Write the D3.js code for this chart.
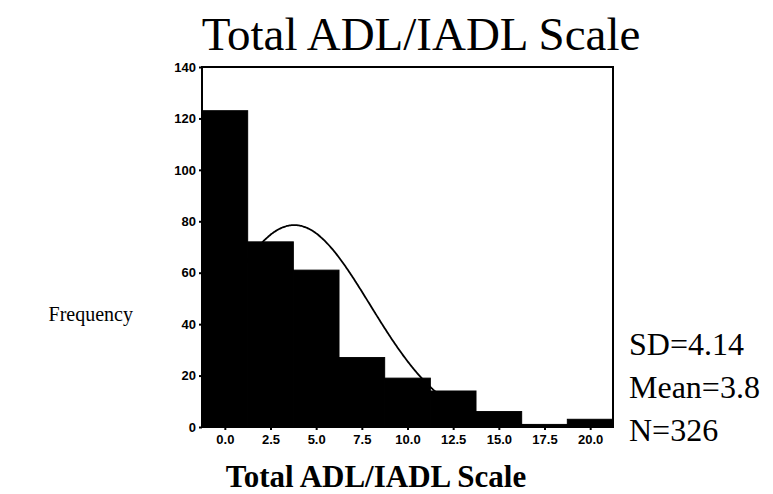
<!DOCTYPE html>
<html>
<head>
<meta charset="utf-8">
<script src="https://cdn.jsdelivr.net/npm/d3@7"></script>
<style>
  body { margin: 0; background: #fff; }
  svg { display: block; }
  .tick-label { font-family: "Liberation Sans", Arial, sans-serif; font-weight: bold; font-size: 13px; fill: #000; }
  .serif { font-family: "Liberation Serif", "Times New Roman", serif; fill: #000; }
</style>
</head>
<body>
<div id="chart"></div>
<script>
// bins (midpoints) and counts
const binMids = [0, 2.5, 5, 7.5, 10, 12.5, 15, 17.5, 20];
const counts = [123, 72, 61, 27, 19, 14, 6, 1, 3];
const xTickLabels = ["0.0", "2.5", "5.0", "7.5", "10.0", "12.5", "15.0", "17.5", "20.0"];
const yTicks = [0, 20, 40, 60, 80, 100, 120, 140];
// normal curve parameters printed beside the chart
const stats = ["SD=4.14", "Mean=3.8", "N=326"];
const sd = 4.14, mean = 3.8, n = 326;
const binWidth = 2.5;

const W = 773, H = 494;
const plotLeft = 202, plotRight = 613, plotTop = 67, plotBottom = 427;

const svg = d3.select("#chart").append("svg").attr("width", W).attr("height", H);

const x = d3.scaleLinear().domain([-binWidth / 2, 20 + binWidth / 2]).range([plotLeft, plotRight]);
const y = d3.scaleLinear().domain([0, 140]).range([plotBottom, plotTop]);

// title
svg.append("text").attr("class", "serif")
    .attr("x", 421).attr("y", 50).attr("text-anchor", "middle")
    .style("font-size", "47px").text("Total ADL/IADL Scale");

// bars (stroked so neighbours join without a seam)
svg.append("g").selectAll("rect")
    .data(counts)
    .enter()
    .append("rect")
    .attr("x", (d, i) => x(binMids[i] - binWidth / 2))
    .attr("width", (d, i) => x(binMids[i] + binWidth / 2) - x(binMids[i] - binWidth / 2))
    .attr("y", (d) => y(d))
    .attr("height", (d) => y(0) - y(d))
    .attr("fill", "#000")
    .attr("stroke", "#000")
    .attr("stroke-width", 1);

// fitted normal curve
const pts = d3.range(-1.25, 21.26, 0.05).map((v) => [v, n * binWidth / (sd * Math.sqrt(2 * Math.PI)) * Math.exp(-0.5 * ((v - mean) / sd) ** 2)]);
svg.append("path")
    .datum(pts)
    .attr("d", d3.line().x((d) => x(d[0])).y((d) => y(d[1])).curve(d3.curveBasis))
    .attr("fill", "none").attr("stroke", "#000").attr("stroke-width", 1.8);

// frame
svg.append("rect")
    .attr("x", plotLeft).attr("y", plotTop)
    .attr("width", plotRight - plotLeft).attr("height", plotBottom - plotTop)
    .attr("fill", "none").attr("stroke", "#000").attr("stroke-width", 2);

// y axis
const yAxis = d3.axisLeft(y).tickValues(yTicks).tickSize(3).tickPadding(3);
const gy = svg.append("g").attr("transform", "translate(" + plotLeft + ",0)").call(yAxis);
gy.select(".domain").remove();
gy.selectAll("line").attr("stroke", "#000").attr("stroke-width", 2);
gy.selectAll("text").attr("class", "tick-label").attr("fill", "#000");

// x axis
const xAxis = d3.axisBottom(x).tickValues(binMids).tickFormat((d, i) => xTickLabels[i]).tickSize(3).tickPadding(5);
const gx = svg.append("g").attr("transform", "translate(0," + plotBottom + ")").call(xAxis);
gx.select(".domain").remove();
gx.selectAll("line").attr("stroke", "#000").attr("stroke-width", 2);
gx.selectAll("text").attr("class", "tick-label").attr("fill", "#000");

// axis titles
svg.append("text").attr("class", "serif")
    .attr("x", 133).attr("y", 321).attr("text-anchor", "end")
    .style("font-size", "20px").text("Frequency");

svg.append("text").attr("class", "serif")
    .attr("x", 376).attr("y", 487).attr("text-anchor", "middle")
    .style("font-size", "31px").style("font-weight", "bold").text("Total ADL/IADL Scale");

// stats
svg.append("g").selectAll("text")
    .data(stats)
    .enter()
    .append("text")
    .attr("class", "serif")
    .attr("x", 629)
    .attr("y", (d, i) => 355 + i * 43)
    .style("font-size", "32px")
    .text((d) => d);
</script>
</body>
</html>
